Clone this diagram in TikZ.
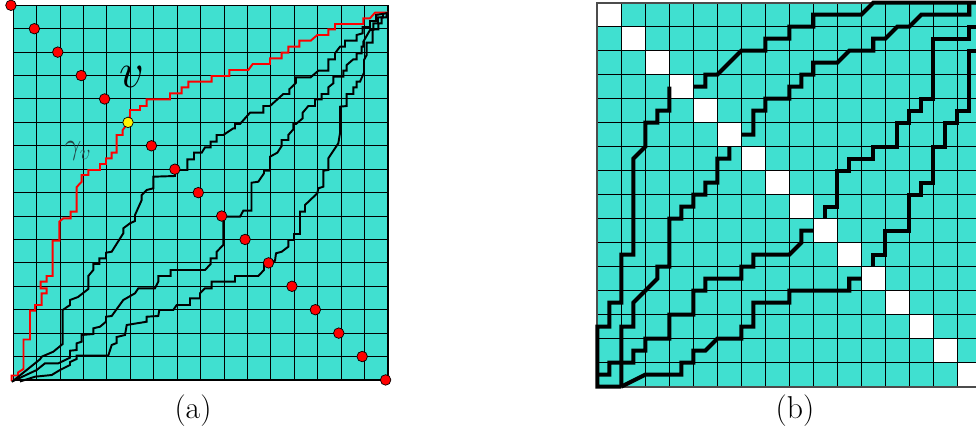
\documentclass[tikz,border=0pt]{standalone}
\usepackage{fontspec}
\definecolor{turq}{RGB}{64,224,208}
\definecolor{gvcol}{RGB}{35,70,70}
\begin{document}
\begin{tikzpicture}[x=0.02cm,y=-0.02cm,
  lblack/.style={black, line width=1.1pt, line join=miter},
  lred/.style={red, line width=1.1pt, line join=miter},
  rblack/.style={black, line width=2.3pt, line join=miter},
  gline/.style={black, line width=0.6pt},
  rdot/.style={fill=red, draw=black, line width=0.4pt},
  ydot/.style={fill=yellow, draw=black, line width=0.4pt},
  lab/.style={font=\fontsize{18}{20}\selectfont, inner sep=0pt}]
\useasboundingbox (0,0) rectangle (976,433);

% ---------- left grid ----------
\begin{scope}[shift={(13.3,5.3)}, x=0.4684cm, y=-0.4684cm]
  \fill[turq] (0,0) rectangle (16,16);
  \foreach \i in {0,...,16} {
    \draw[gline] (\i,0) -- (\i,16);
    \draw[gline] (0,\i) -- (16,\i);
  }
  \draw[black, line width=0.8pt] (0,0) rectangle (16,16);
\end{scope}

% red path
\draw[lred] (11.7,381) -- (11.7,375.5) -- (18,375.5) -- (18,372.5) -- (23.5,369) -- (23.5,339.5) -- (30,339.5) -- (30,310.7) -- (35,310.7) -- (35,305) -- (41.7,305) -- (41.7,293.3) -- (46.7,293.3) -- (46.7,288.3) -- (40.7,288.3) -- (40.7,281.7) -- (46.7,281.7) -- (46.7,276) -- (52.7,276) -- (52.7,240.7) -- (59.3,240.7) -- (59.3,221.7) -- (63.3,218.3) -- (70.7,218.3) -- (70.7,211.7) -- (76.7,211.7) -- (76.7,187) -- (81.7,181.7) -- (81.7,175) -- (88.3,175) -- (88.3,170) -- (100,170) -- (100,164) -- (106,164) -- (106,158.3) -- (111.7,158.3) -- (111.7,152.7) -- (116.7,152.7) -- (116.7,135) -- (122.7,135) -- (122.7,130) -- (128,123) -- (130,116) -- (130,110) -- (140,110) -- (140,106) -- (146.7,106) -- (146.7,99.3) -- (170,99.3) -- (170,93.3) -- (181.7,93.3) -- (181.7,87.3) -- (188.3,87.3) -- (188.3,81.7) -- (211.7,81.7) -- (211.7,76) -- (229.3,76) -- (229.3,70) -- (248.3,70) -- (252.7,64) -- (270,64) -- (270,58.3) -- (281.7,58.3) -- (281.7,52.7) -- (288.3,52.7) -- (288.3,46.7) -- (299.3,46.7) -- (299.3,40.7) -- (310.7,40.7) -- (317.3,35) -- (328.3,35) -- (328.3,29.3) -- (335,29.3) -- (335,24) -- (363.3,24) -- (363.3,18.3) -- (370,18.3) -- (375,12.7) -- (388,12.7);

% black path 1
\draw[lblack] (13.3,380.7) -- (40,359.3) -- (41.7,356.7) -- (53.3,351.7) -- (62.7,344) -- (62.7,310) -- (70,305) -- (70,300) -- (78,297) -- (88.3,289) -- (88.3,276) -- (93.3,270) -- (93.3,264) -- (99.3,264) -- (99.3,258.3) -- (106,258.3) -- (106,252.7) -- (111.7,251.7) -- (123.3,233.3) -- (123.3,228.3) -- (130,223.3) -- (135,221) -- (135,215) -- (141.7,200) -- (141.7,195) -- (146.7,190) -- (153.3,188.3) -- (153.3,176.7) -- (175,176) -- (175,170) -- (187.3,170) -- (187.3,159.3) -- (194,159.3) -- (194,152.7) -- (201.7,152.7) -- (205,147.3) -- (210.7,147.3) -- (210.7,141.7) -- (216.7,141.7) -- (216.7,135) -- (223.3,135) -- (233.3,128.3) -- (235,128.3) -- (235,124) -- (240,124) -- (250,112.7) -- (263.3,112.7) -- (263.3,106) -- (270,106) -- (283.3,94) -- (289.3,94) -- (289.3,89.3) -- (296,82.7) -- (296,77.3) -- (310.7,77.3) -- (318.3,70.7) -- (328.3,70.7) -- (328.3,59.3) -- (335,59.3) -- (335,53.3) -- (340,46.7) -- (345,46.7) -- (345,40.7) -- (356.7,40.7) -- (356.7,35) -- (362.7,33.3) -- (362.7,27) -- (370,27) -- (370,21) -- (376,21) -- (376,15) -- (388,13);

% black path 2
\draw[lblack] (11.7,381.7) -- (36.7,370) -- (45,363.3) -- (58.3,363.3) -- (70,357.7) -- (70,350.7) -- (76.7,350) -- (76.7,343.3) -- (81.7,341.7) -- (81.7,335) -- (93.3,334) -- (93.3,328.3) -- (100,326.7) -- (106,321.7) -- (106,316.7) -- (111.7,316) -- (123.3,300) -- (135,293.3) -- (138.3,288.3) -- (155,288.3) -- (158.3,281.7) -- (158.3,276) -- (170.7,276) -- (170.7,270) -- (205,270) -- (210.7,264) -- (210.7,258.3) -- (216.7,258.3) -- (216.7,251.7) -- (223.3,245) -- (223.3,216.7) -- (240,216.7) -- (243.3,210.7) -- (251.5,210.7) -- (251.5,182.7) -- (258.3,181.7) -- (264,173.3) -- (264,170.7) -- (270,170.7) -- (270,156.7) -- (277.3,152.7) -- (281.7,146) -- (281.7,140) -- (288.3,140) -- (288.3,135) -- (293.3,129.3) -- (293.3,124) -- (296,124) -- (302.7,118.3) -- (302.7,112.7) -- (308.3,106) -- (315,106) -- (315,99.3) -- (321.7,99.3) -- (321.7,94) -- (328.3,94) -- (328.3,87.3) -- (333.3,83.3) -- (333.3,76.7) -- (343.3,76.7) -- (343.3,70.7) -- (346.7,70.7) -- (346.7,65) -- (353.3,59.3) -- (356.7,59.3) -- (356.7,53.3) -- (361.7,53.3) -- (361.7,46.7) -- (363.3,46.7) -- (363.3,41.7) -- (370,30) -- (373.3,30) -- (373.3,23.3) -- (378,23.3) -- (378,17.3) -- (383,17.3) -- (383,13);

% black path 3
\draw[lblack] (20,381.5) -- (35,376.7) -- (51.7,375) -- (60,370) -- (70,365) -- (70,362) -- (76.7,359) -- (76.7,355.5) -- (108.3,355.5) -- (111.7,345) -- (116.7,343) -- (116.7,337) -- (125,335) -- (126.7,325) -- (146.7,321.7) -- (146.7,316.7) -- (158.3,316) -- (159.3,310) -- (173.3,310) -- (176.7,305) -- (190,305) -- (190,298.3) -- (200,298.3) -- (200,293.3) -- (205,288.3) -- (211.7,288.3) -- (211.7,281.7) -- (235,281.7) -- (235,276) -- (258.3,276) -- (264,270) -- (264,265) -- (269,263.3) -- (275,260.7) -- (276,253.3) -- (281.7,251.7) -- (288.3,246.7) -- (288.3,240) -- (294,240) -- (294,234) -- (300,234) -- (300,211.7) -- (305,211.7) -- (305,205) -- (317.3,193.3) -- (318.3,188.3) -- (323.3,186.7) -- (323.3,170.7) -- (328.3,170) -- (328.3,158.3) -- (338.3,143.3) -- (340,133.3) -- (340,106.7) -- (346.7,106) -- (346.7,94) -- (353.3,94) -- (353.3,87.3) -- (356.7,87.3) -- (356.7,81.7) -- (360,81.7) -- (364,72.7) -- (364,60) -- (366.7,55) -- (366.7,42.7) -- (372.7,42.7) -- (372.7,29.3) -- (378.3,29.3) -- (378.3,23.3) -- (381.7,23.3) -- (381.7,17.3) -- (386.7,17.3) -- (386.7,12.7);

% dots
\begin{scope}[shift={(13.3,5.3)}, x=0.4684cm, y=-0.4684cm]
  \foreach \i in {0,1,2,3,4,6,7,8,9,10,11,12,13,14,15,16}
    \filldraw[rdot] (\i-0.1,\i) circle[radius=3pt];
  \filldraw[ydot] (4.9,5) circle[radius=3pt];
\end{scope}

\node[font=\fontsize{24.88}{28}\selectfont, inner sep=0pt, scale=1.12] (vl) at (131.5,77) {$v$};
\node[text=gvcol, font=\fontsize{17.28}{19}\selectfont, inner sep=0pt] (gv) at (78,151) {$\gamma_v$};

% ---------- right grid ----------
\begin{scope}[shift={(597.3,2.7)}, x=0.48cm, y=-0.48cm]
  \fill[turq] (0,0) rectangle (16,16);
  \foreach \i in {0,...,15} \fill[white] (\i,\i) rectangle ++(1,1);
  \foreach \i in {0,...,16} {
    \draw[gline] (\i,0) -- (\i,16);
    \draw[gline] (0,\i) -- (16,\i);
  }
  \draw[black!70, line width=1pt] (0,0) rectangle (16,16);
  % paths
  \draw[rblack] (4,3.5) -- (4.5,3.5) -- (4.5,3) -- (5,3) -- (6,2) -- (7,2) -- (7,1.5) -- (8,1.5) -- (8,1) -- (9,1) -- (9,0.5) -- (11,0.5) -- (11.5,0) -- (16,0);
  \draw[rblack] (3,3.5) -- (3,4.5) -- (2.5,4.5) -- (2.5,5) -- (2,5) -- (2,6) -- (1.5,6.5) -- (1.5,10.5) -- (1,10.5) -- (1,12.5) -- (0.5,12.5) -- (0.5,13.5) -- (0,13.5) -- (0,16) -- (1,16);
  \draw[rblack] (5.5,6) -- (5.5,6.5) -- (5,6.5) -- (5,7.5) -- (4.5,7.5) -- (4.5,8) -- (4,8) -- (4,8.5) -- (3.5,8.5) -- (3.5,9) -- (3,9) -- (3,11) -- (2.5,11) -- (2.5,11.5) -- (1.5,12.5) -- (1.5,13.5) -- (1,13.5) -- (1,16);
  \draw[rblack] (6,5.5) -- (6.5,5.5) -- (6.5,4.5) -- (7,4.5) -- (7,4) -- (8,4) -- (8,3.5) -- (8.5,3.5) -- (8.5,3) -- (9,3) -- (9,2.5) -- (10,2.5) -- (10.5,2) -- (11.5,2) -- (11.5,1.5) -- (12,1.5) -- (12.5,1) -- (13,1) -- (13.5,0.5) -- (15.5,0.5) -- (15.5,0);
  \draw[rblack] (9.5,9) -- (9.5,8.5) -- (10,8.5) -- (10,7) -- (10.5,7) -- (10.5,6.5) -- (11.5,6.5) -- (11.5,6) -- (12.5,6) -- (12.5,5) -- (13,5) -- (13,4.5) -- (13.5,4.5) -- (13.5,4) -- (14,4) -- (14,1.5) -- (15.5,1.5) -- (15.5,1) -- (16,1);
  \draw[rblack] (11.5,11) -- (11.5,10.5) -- (12,10.5) -- (12,9.5) -- (13,9.5) -- (13,8) -- (13.5,8) -- (13.5,7.5) -- (14,7.5) -- (14,6) -- (14.5,6) -- (14.5,5) -- (15,5) -- (15,4.5) -- (15.5,4.5) -- (15.5,2) -- (16,2);
  \draw[rblack] (0,15.5) -- (0.5,15.5) -- (0.5,15) -- (1.5,15) -- (1.5,14.5) -- (2,14.5) -- (2,14) -- (3,14) -- (3,13) -- (4,13) -- (4,12) -- (4.5,12) -- (4.5,11.5) -- (6,11.5) -- (6,11) -- (6.5,11) -- (6.5,10.5) -- (8,10.5) -- (8.5,10) -- (8.5,9.5) -- (9,9.5);
  \draw[rblack] (1,16) -- (2,15.5) -- (3.5,15.5) -- (3.5,15) -- (4,15) -- (4,14.5) -- (4.5,14.5) -- (5,14) -- (6,14) -- (6,13.5) -- (6.5,13.5) -- (6.5,12.5) -- (8,12.5) -- (8,12) -- (10.5,12) -- (10.5,11.5) -- (11,11.5);
\end{scope}

\node[lab] (la) at (193,411) {(a)};
\node[lab] (lb) at (795,411) {(b)};
\end{tikzpicture}
\end{document}
